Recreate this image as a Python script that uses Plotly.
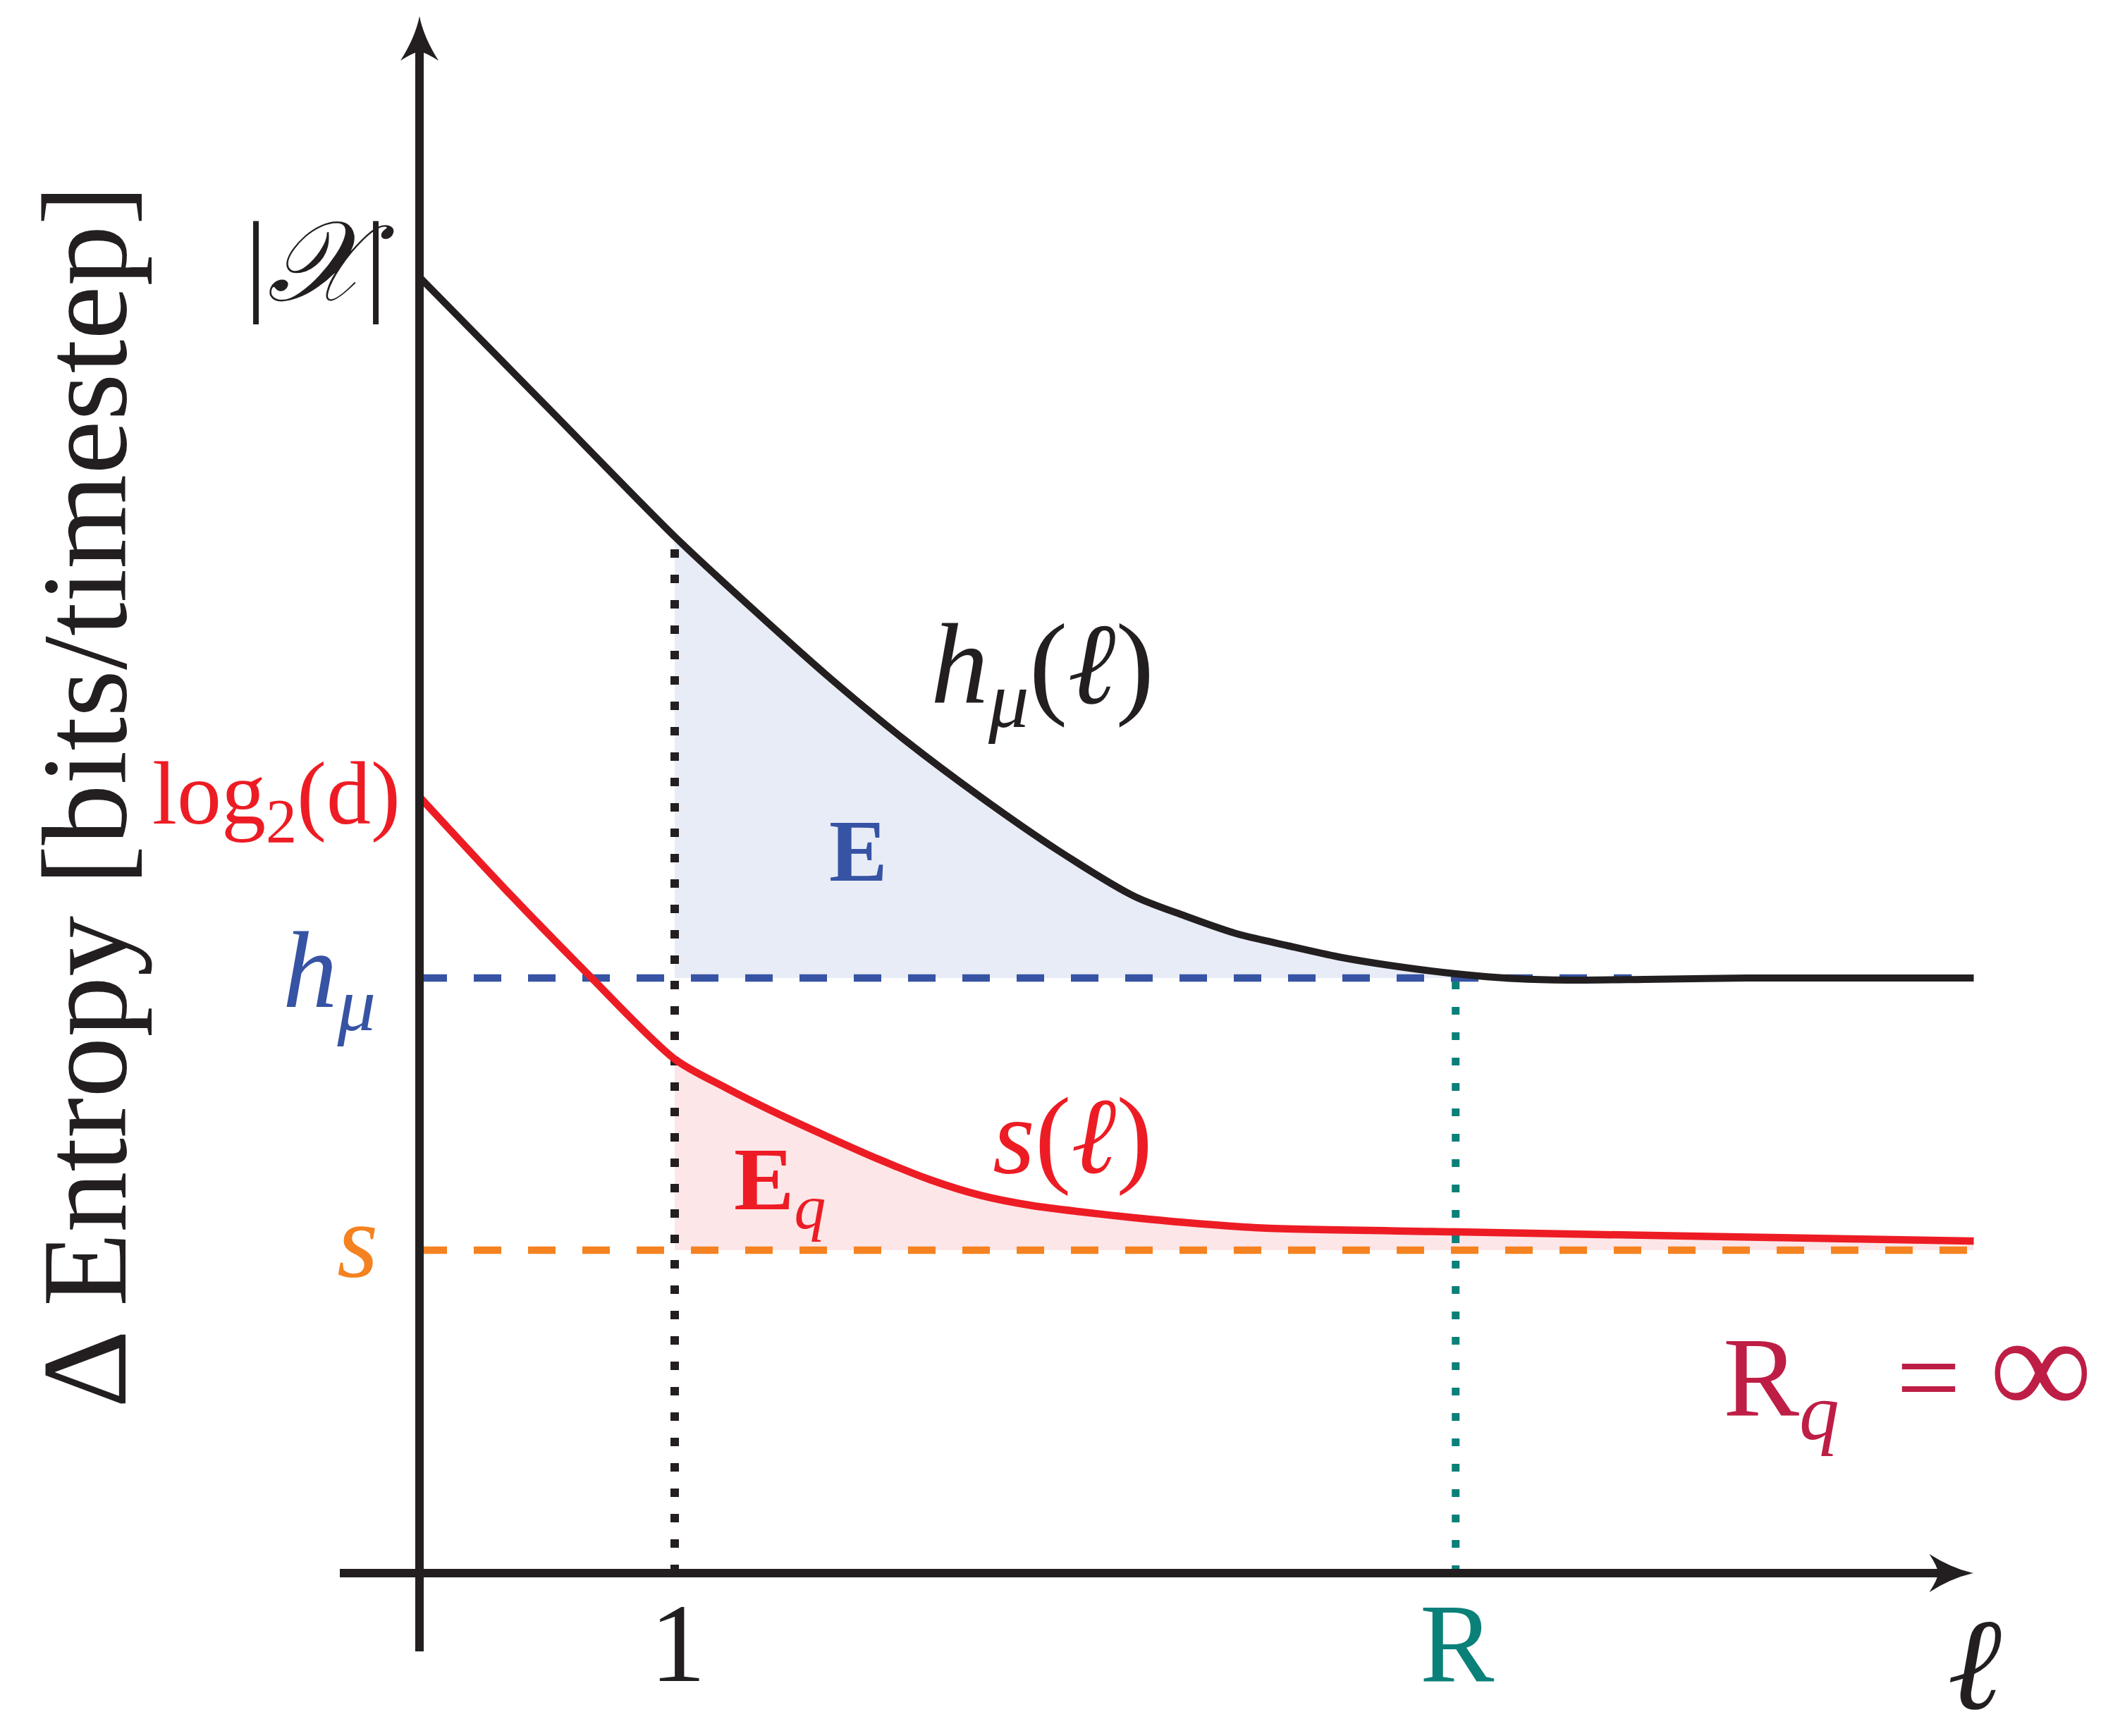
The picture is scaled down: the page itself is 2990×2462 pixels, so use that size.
import plotly.graph_objects as go

# block length ell and the two curves (arbitrary entropy units, x-axis at 0)
ell_h = [0.0, 0.5, 1.0, 1.3, 1.6, 1.9, 2.2, 2.5, 2.8, 3.0, 3.2, 3.4, 3.6, 3.8, 4.06,
         4.3, 4.5, 4.8, 5.2, 6.09]
h_mu_ell = [9.19, 8.27, 7.35, 6.846, 6.36, 5.91, 5.502, 5.127, 4.80, 4.66, 4.535, 4.45, 4.37,
            4.31, 4.25, 4.215, 4.205, 4.21, 4.22, 4.22]

ell_s = [0.0, 0.33, 0.66, 1.0, 1.2, 1.4, 1.6, 1.8, 2.0, 2.2, 2.4, 2.6, 2.8, 3.0, 3.3,
         4.06, 5.05, 6.09]
s_ell = [5.505, 4.861, 4.247, 3.645, 3.442, 3.261, 3.094, 2.934, 2.79, 2.678, 2.606, 2.56,
         2.52, 2.486, 2.447, 2.42, 2.387, 2.355]

# reference levels
H_MU = 4.22        # h_mu
S_RATE = 2.29      # s
ELL_ONE = 1.0
R = 4.06
ELL_MAX = 6.09

BLACK = "#231F20"
RED = "#ED1C24"
BLUE = "#3653A4"
ORANGE = "#F58220"
TEAL = "#0B8079"
CRIMSON = "#BE1E45"
FONT = "Liberation Serif"

# screen mapping (page body has an 8px margin)
OFF = 8
W, H = 2990, 2462
X0, SX = 595, 362.0
Y0, SY = 2231, 200.0


def at(xs, ys):
    return (xs - X0) / SX, (Y0 - ys) / SY


SMOOTH = 0.8
fig = go.Figure()

# shaded areas E and E_q
e_x = [x for x in ell_h if ELL_ONE <= x <= R]
e_y = [y for x, y in zip(ell_h, h_mu_ell) if ELL_ONE <= x <= R]
fig.add_trace(go.Scatter(x=e_x, y=[H_MU] * len(e_x), mode="lines", line=dict(width=0)))
fig.add_trace(go.Scatter(x=e_x, y=e_y, mode="lines", fill="tonexty", fillcolor="#E8ECF6",
                         line=dict(width=0, shape="spline", smoothing=SMOOTH)))

q_x = [x for x in ell_s if x >= ELL_ONE]
q_y = [y for x, y in zip(ell_s, s_ell) if x >= ELL_ONE]
fig.add_trace(go.Scatter(x=q_x, y=[S_RATE] * len(q_x), mode="lines", line=dict(width=0)))
fig.add_trace(go.Scatter(x=q_x, y=q_y, mode="lines", fill="tonexty", fillcolor="#FCE6E8",
                         line=dict(width=0, shape="spline", smoothing=SMOOTH)))

# dashed levels
fig.add_trace(go.Scatter(x=[0, 4.75], y=[H_MU, H_MU], mode="lines",
                         line=dict(color=BLUE, width=10.5, dash="39px,38px")))
fig.add_trace(go.Scatter(x=[0, ELL_MAX], y=[S_RATE, S_RATE], mode="lines",
                         line=dict(color=ORANGE, width=10.5, dash="39px,38px")))

# dotted markers at ell = 1 and ell = R
fig.add_trace(go.Scatter(x=[ELL_ONE, ELL_ONE], y=[0, h_mu_ell[ell_h.index(ELL_ONE)]], mode="lines",
                         line=dict(color=BLACK, width=12, dash="12px,24px")))
fig.add_trace(go.Scatter(x=[R, R], y=[0, H_MU], mode="lines",
                         line=dict(color=TEAL, width=11, dash="11px,25px")))

# curves
fig.add_trace(go.Scatter(x=ell_s, y=s_ell, mode="lines",
                         line=dict(color=RED, width=10.5, shape="spline", smoothing=SMOOTH)))
fig.add_trace(go.Scatter(x=ell_h, y=h_mu_ell, mode="lines",
                         line=dict(color=BLACK, width=10, shape="spline", smoothing=SMOOTH)))

# axes with stealth arrowheads
y_tip = at(0, 23)[1]
y_bot = at(0, 2342)[1]
x_left = at(482, 0)[0]
shapes = [
    dict(type="line", xref="x", yref="y", x0=0, x1=0, y0=y_bot, y1=y_tip - 45 / SY,
         line=dict(color=BLACK, width=12)),
    dict(type="line", xref="x", yref="y", x0=x_left, x1=ELL_MAX - 45 / SX, y0=0, y1=0,
         line=dict(color=BLACK, width=12)),
    dict(type="path", xref="x", yref="y", xsizemode="pixel", ysizemode="pixel",
         xanchor=0, yanchor=y_tip,
         path="M0,0 Q-6,-30 -27,-63 Q-10,-52 0,-50 Q10,-52 27,-63 Q6,-30 0,0 Z",
         fillcolor=BLACK, line=dict(width=0)),
    dict(type="path", xref="x", yref="y", xsizemode="pixel", ysizemode="pixel",
         xanchor=ELL_MAX, yanchor=0,
         path="M0,0 Q-30,6 -63,27 Q-52,10 -50,0 Q-52,-10 -63,-27 Q-30,-6 0,0 Z",
         fillcolor=BLACK, line=dict(width=0)),
]

labels = [
    ("|<i>𝒳</i>|", 453, 372, 160, BLACK),
    ("log<sub>2</sub>(d)", 392, 1134, 126, RED),
    ("<i>h</i><sub><i>μ</i></sub>", 467, 1387, 155, BLUE),
    ("<i>s</i>", 507, 1760, 150, ORANGE),
    ("1", 961, 2330, 158, BLACK),
    ("R", 2067, 2331, 158, TEAL),
    ("<i>ℓ</i>", 2800, 2360, 185, BLACK),
    ("<i>h</i><sub><i>μ</i></sub>(<i>ℓ</i>)", 1478, 953, 164, BLACK),
    ("<b>E</b>", 1217, 1207, 124, BLUE),
    ("<b>E</b><sub><i>q</i></sub>", 1106, 1681, 128, RED),
    ("<i>s</i>(<i>ℓ</i>)", 1521, 1611, 154, RED),
    ("R<sub><i>q</i></sub>\u2002= <span style='font-size:205px'>∞</span>", 2706, 1945, 162, CRIMSON),
]
annotations = []
for text, xs, ys, size, color in labels:
    ax, ay = at(xs, ys)
    annotations.append(dict(text=text, x=ax, y=ay, xref="x", yref="y", showarrow=False,
                            xanchor="center", yanchor="middle",
                            font=dict(family=FONT, size=size, color=color)))
lx, ly = at(120, 1130)
annotations.append(dict(text="Δ Entropy [bits/timestep]", x=lx, y=ly, xref="x", yref="y",
                        showarrow=False, textangle=-90, xanchor="center", yanchor="middle",
                        font=dict(family=FONT, size=172, color=BLACK)))

fig.update_layout(
    width=W, height=H,
    margin=dict(l=0, r=0, t=0, b=0),
    paper_bgcolor="white", plot_bgcolor="white",
    showlegend=False,
    xaxis=dict(range=[(OFF - X0) / SX, (W + OFF - X0) / SX], visible=False, fixedrange=True),
    yaxis=dict(range=[(Y0 - (H + OFF)) / SY, (Y0 - OFF) / SY], visible=False, fixedrange=True),
    shapes=shapes,
    annotations=annotations,
)

fig.write_html("out.html")
